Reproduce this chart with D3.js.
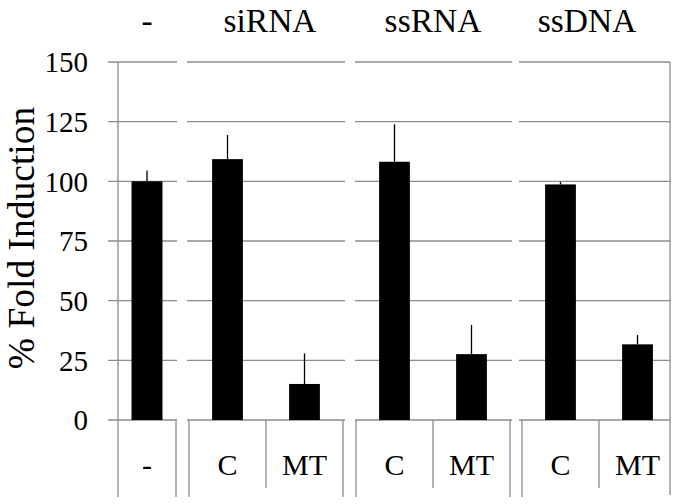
<!DOCTYPE html>
<html>
<head>
<meta charset="utf-8">
<script src="https://cdn.jsdelivr.net/npm/d3@7"></script>
<style>
  body { margin: 0; background: #fff; }
</style>
</head>
<body>
<div id="chart"></div>
<script>
// data
var groups = ["-", "siRNA", "ssRNA", "ssDNA"];
var cellGroup = ["-", "siRNA", "siRNA", "ssRNA", "ssRNA", "ssDNA", "ssDNA"];
var cellLabels = ["-", "C", "MT", "C", "MT", "C", "MT"];
var values = [100, 109.3, 15.1, 108.2, 27.6, 98.7, 31.7];
var errors = [4.5, 10.1, 12.8, 15.7, 12.2, 1.1, 3.9];
var yTicks = [0, 25, 50, 75, 100, 125, 150];

var width = 679, height = 504;
var gridColor = "#8c8c8c";
var serif = "Liberation Serif";

// panel layout (pixel extents of each group block)
var panels = [
  {g: "-", x0: 118, x1: 176, gl: 108, gr: 177, shift: 0},
  {g: "siRNA", x0: 189, x1: 343, gl: 187, gr: 345, shift: 4},
  {g: "ssRNA", x0: 356, x1: 510, gl: 355, gr: 512, shift: 0},
  {g: "ssDNA", x0: 522, x1: 676, gl: 519, gr: 670, shift: -9, clip: 670}
];

var y = d3.scaleLinear().domain([0, 150]).range([420, 62]);

var svg = d3.select("#chart").append("svg")
  .attr("width", width)
  .attr("height", height);

// y tick labels
svg.append("g").selectAll("text")
  .data(yTicks)
  .join("text")
    .attr("font-family", serif)
    .attr("x", 88)
    .attr("y", d => y(d))
    .attr("dy", "0.36em")
    .attr("text-anchor", "end")
    .attr("font-size", 29)
    .text(d => d);

// y title
svg.append("text")
  .attr("font-family", serif)
  .attr("transform", "translate(34," + 238 + ") rotate(-90)")
  .attr("text-anchor", "middle")
  .attr("font-size", 37.5)
  .text("% Fold Induction");

// y axis line
svg.append("line")
  .attr("x1", 118).attr("x2", 118)
  .attr("y1", y(150)).attr("y2", 497)
  .attr("stroke", gridColor).attr("stroke-width", 1.3);

panels.forEach(function(p){
  var idx = d3.range(cellGroup.length).filter(i => cellGroup[i] == p.g);
  var n = idx.length;
  var pad = n == 1 ? 0.466 : 0.6;
  var x = d3.scaleBand()
    .domain(idx)
    .range([p.x0, p.x1])
    .paddingInner(pad)
    .paddingOuter(pad / 2);
  var step = x.step();
  var right = p.clip || p.x1;

  var g = svg.append("g");

  // gridlines
  g.selectAll("line.grid")
    .data(yTicks)
    .join("line")
      .attr("class", "grid")
      .attr("x1", p.gl).attr("x2", p.gr)
      .attr("y1", d => y(d)).attr("y2", d => y(d))
      .attr("stroke", gridColor).attr("stroke-width", 1.3);

  // category borders
  if (p.x0 != 118) {
    g.append("line")
      .attr("x1", p.x0).attr("x2", p.x0)
      .attr("y1", y(0)).attr("y2", 497)
      .attr("stroke", gridColor).attr("stroke-width", 1.3);
  }
  if (p.clip) {
    g.append("line")
      .attr("x1", right).attr("x2", right)
      .attr("y1", y(150)).attr("y2", 495)
      .attr("stroke", gridColor).attr("stroke-width", 1.3);
  } else {
    g.append("line")
      .attr("x1", right).attr("x2", right)
      .attr("y1", y(0)).attr("y2", 497)
      .attr("stroke", gridColor).attr("stroke-width", 1.3);
  }
  // dividers between cells
  idx.slice(1).forEach(function(i){
    var xd = x(i) - step * pad / 2;
    g.append("line")
      .attr("x1", xd).attr("x2", xd)
      .attr("y1", y(0)).attr("y2", 488)
      .attr("stroke", gridColor).attr("stroke-width", 1.3);
  });

  // bars
  g.selectAll("rect")
    .data(idx)
    .join("rect")
      .attr("x", i => x(i))
      .attr("width", x.bandwidth())
      .attr("y", i => y(values[i]))
      .attr("height", i => y(0) - y(values[i]))
      .attr("fill", "#000");

  // error bars
  g.selectAll("line.err")
    .data(idx)
    .join("line")
      .attr("class", "err")
      .attr("x1", i => x(i) + x.bandwidth() / 2)
      .attr("x2", i => x(i) + x.bandwidth() / 2)
      .attr("y1", i => y(values[i]))
      .attr("y2", i => y(values[i] + errors[i]))
      .attr("stroke", "#000").attr("stroke-width", 1.3);

  // cell labels
  g.selectAll("text.cell")
    .data(idx)
    .join("text")
      .attr("class", "cell")
      .attr("font-family", serif)
      .attr("x", i => x(i) + x.bandwidth() / 2)
      .attr("y", 475)
      .attr("text-anchor", "middle")
      .attr("font-size", 30)
      .text(i => cellLabels[i]);

  // group label
  g.append("text")
    .attr("font-family", serif)
    .attr("x", (p.x0 + right) / 2 + p.shift)
    .attr("y", 32)
    .attr("text-anchor", "middle")
    .attr("font-size", 33.5)
    .text(p.g);
});
</script>
</body>
</html>
